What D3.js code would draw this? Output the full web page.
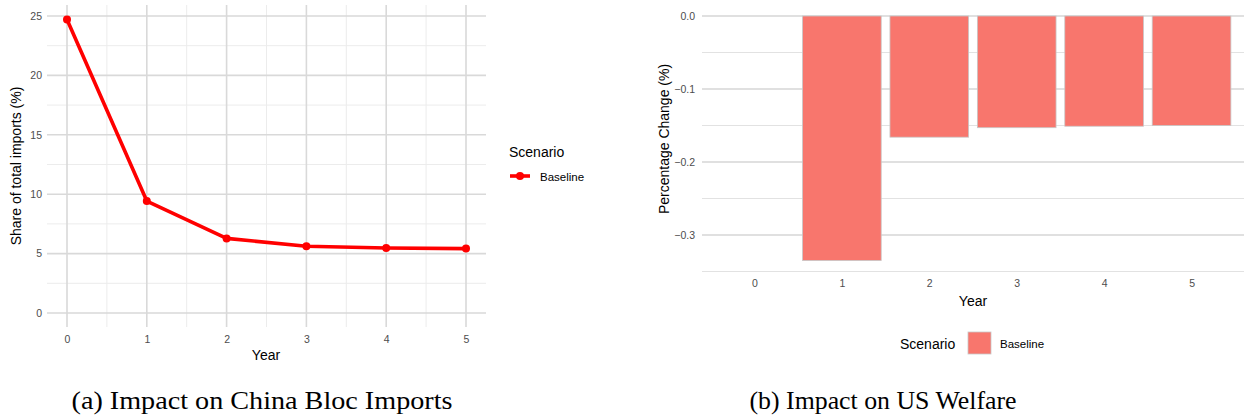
<!DOCTYPE html>
<meta charset="utf-8">
<script src="https://d3js.org/d3.v7.min.js"></script>
<style>
  body { margin: 0; background: #fff; }
  text { font-family: "Liberation Sans", Arial, sans-serif; }
</style>
<div id="chart"></div>
<script>
// data
const years = [0, 1, 2, 3, 4, 5];
const chinaShare = [24.7, 9.42, 6.28, 5.62, 5.47, 5.42];   // share of total imports (%)
const usWelfare = [0, -0.335, -0.166, -0.153, -0.151, -0.150]; // percentage change (%)
const leftYTicks = [0, 5, 10, 15, 20, 25];
const rightYTicks = [0, -0.1, -0.2, -0.3];

const W = 1247, H = 417;
const svg = d3.select("#chart").append("svg")
  .attr("width", W).attr("height", H);

const tickCol = "#4d4d4d", majorCol = "#d9d9d9", minorCol = "#ececec";

// ---------- panel (a): line chart ----------
const xa = d3.scaleLinear().domain([0, 5]).range([67, 466]);
const ya = d3.scaleLinear().domain([0, 25]).range([313, 16]);
const pa = {x0: 47, x1: 486, y0: 5, y1: 327};

const ga = svg.append("g");
// minor grid
ga.selectAll(".vminor").data(d3.range(0.5, 5, 1)).join("line")
  .attr("x1", d => xa(d)).attr("x2", d => xa(d)).attr("y1", pa.y0).attr("y2", pa.y1)
  .attr("stroke", minorCol).attr("stroke-width", 1);
ga.selectAll(".hminor").data(d3.range(2.5, 25, 5)).join("line")
  .attr("y1", d => ya(d)).attr("y2", d => ya(d)).attr("x1", pa.x0).attr("x2", pa.x1)
  .attr("stroke", minorCol).attr("stroke-width", 1);
// major grid
ga.selectAll(".vmajor").data(years).join("line")
  .attr("x1", d => xa(d)).attr("x2", d => xa(d)).attr("y1", pa.y0).attr("y2", pa.y1)
  .attr("stroke", majorCol).attr("stroke-width", 1.6);
ga.selectAll(".hmajor").data(leftYTicks).join("line")
  .attr("y1", d => ya(d)).attr("y2", d => ya(d)).attr("x1", pa.x0).attr("x2", pa.x1)
  .attr("stroke", majorCol).attr("stroke-width", 1.6);

// axes (text only, ggplot minimal style)
const axA = ga.append("g").attr("transform", `translate(0,${pa.y1})`)
  .call(d3.axisBottom(xa).tickValues(years).tickSize(0).tickPadding(9).tickFormat(d3.format("d")));
axA.select(".domain").remove();
const ayA = ga.append("g").attr("transform", `translate(${pa.x0},0)`)
  .call(d3.axisLeft(ya).tickValues(leftYTicks).tickSize(0).tickPadding(5));
ayA.select(".domain").remove();
ga.selectAll(".tick text").attr("fill", tickCol).style("font-size", "10.5px")
  .style("font-family", "Liberation Sans, Arial, sans-serif");

// line + points
ga.append("path").datum(years)
  .attr("fill", "none").attr("stroke", "#ff0000").attr("stroke-width", 3.6)
  .attr("stroke-linejoin", "round")
  .attr("d", d3.line().x(d => xa(d)).y((d, i) => ya(chinaShare[i])));
ga.selectAll(".pt").data(years).join("circle")
  .attr("cx", d => xa(d)).attr("cy", (d, i) => ya(chinaShare[i]))
  .attr("r", 4).attr("fill", "#ff0000");

// titles
ga.append("text").attr("x", 266).attr("y", 360).attr("text-anchor", "middle")
  .style("font-size", "14px").text("Year");
ga.append("text").attr("transform", "translate(21,166) rotate(-90)")
  .attr("text-anchor", "middle").style("font-size", "14px")
  .text("Share of total imports (%)");

// legend
ga.append("text").attr("x", 509).attr("y", 157).style("font-size", "14px").text("Scenario");
ga.append("line").attr("x1", 510).attr("x2", 530).attr("y1", 176).attr("y2", 176)
  .attr("stroke", "#ff0000").attr("stroke-width", 3.6);
ga.append("circle").attr("cx", 520).attr("cy", 176).attr("r", 4).attr("fill", "#ff0000");
ga.append("text").attr("x", 540).attr("y", 180.5).style("font-size", "11.5px").text("Baseline");

// ---------- panel (b): bar chart ----------
const xb = d3.scalePoint().domain(years).range([702, 1244]).padding(0.6);
const yb = d3.scaleLinear().domain([-0.35, 0]).range([271.5, 16]);
const pb = {x0: 702, x1: 1244};
const gb = svg.append("g");

gb.selectAll(".hminor").data(d3.range(-0.35, 0, 0.1)).join("line")
  .attr("y1", d => yb(d)).attr("y2", d => yb(d)).attr("x1", pb.x0).attr("x2", pb.x1)
  .attr("stroke", "#e2e2e2").attr("stroke-width", 1.2);
gb.selectAll(".hmajor").data(rightYTicks).join("line")
  .attr("y1", d => yb(d)).attr("y2", d => yb(d)).attr("x1", pb.x0).attr("x2", pb.x1)
  .attr("stroke", "#d6d6d6").attr("stroke-width", 1.6);

const bw = xb.step() * 0.9;
gb.selectAll(".bar").data(years).join("rect")
  .attr("x", d => xb(d) - bw / 2).attr("width", bw)
  .attr("y", yb(0)).attr("height", (d, i) => yb(usWelfare[i]) - yb(0))
  .attr("fill", "#F8766D").attr("stroke", "#c8c8c8").attr("stroke-width", 0.8);

const axB = gb.append("g").attr("transform", `translate(0,273)`)
  .call(d3.axisBottom(xb).tickSize(0).tickPadding(7));
axB.select(".domain").remove();
const ayB = gb.append("g").attr("transform", `translate(${pb.x0},0)`)
  .call(d3.axisLeft(yb).tickValues(rightYTicks).tickSize(0).tickPadding(7).tickFormat(d3.format(".1f")));
ayB.select(".domain").remove();
gb.selectAll(".tick text").attr("fill", tickCol).style("font-size", "10.5px")
  .style("font-family", "Liberation Sans, Arial, sans-serif");

gb.append("text").attr("x", 973).attr("y", 306).attr("text-anchor", "middle")
  .style("font-size", "14px").text("Year");
gb.append("text").attr("transform", "translate(669,139) rotate(-90)")
  .attr("text-anchor", "middle").style("font-size", "14px")
  .text("Percentage Change (%)");

gb.append("text").attr("x", 900).attr("y", 349).style("font-size", "14px").text("Scenario");
gb.append("rect").attr("x", 968).attr("y", 332).attr("width", 23).attr("height", 22)
  .attr("fill", "#F8766D").attr("stroke", "#c8c8c8").attr("stroke-width", 0.8);
gb.append("text").attr("x", 1000).attr("y", 347.5).style("font-size", "11.5px").text("Baseline");

// ---------- captions ----------
svg.append("text").attr("x", 262).attr("y", 409).attr("text-anchor", "middle")
  .attr("textLength", 381).attr("lengthAdjust", "spacingAndGlyphs")
  .style("font-family", "Liberation Serif, DejaVu Serif, serif").style("font-size", "24.5px")
  .text("(a) Impact on China Bloc Imports");
svg.append("text").attr("x", 883).attr("y", 409).attr("text-anchor", "middle")
  .attr("textLength", 267).attr("lengthAdjust", "spacingAndGlyphs")
  .style("font-family", "Liberation Serif, DejaVu Serif, serif").style("font-size", "24.5px")
  .text("(b) Impact on US Welfare");
</script>
